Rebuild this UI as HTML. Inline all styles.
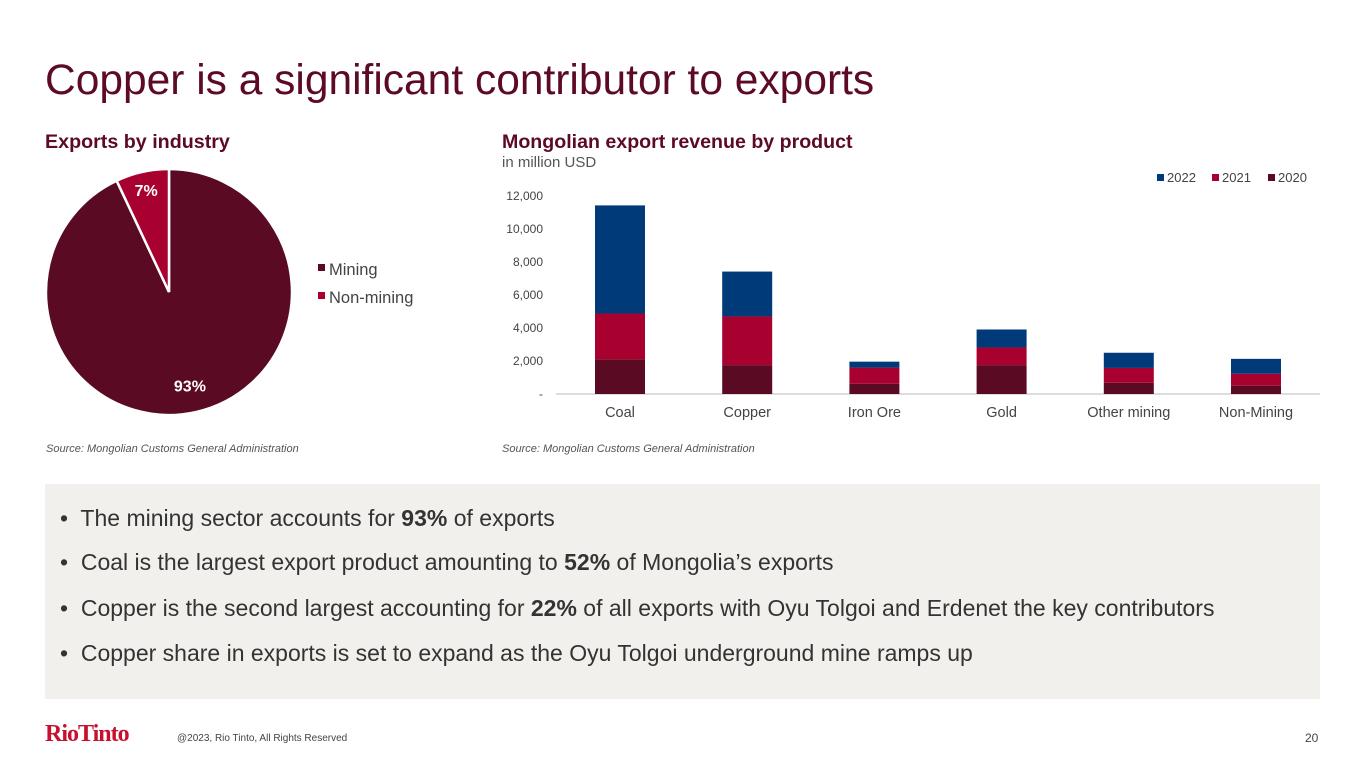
<!DOCTYPE html>
<html><head><meta charset="utf-8"><style>
body{margin:0;width:1365px;height:768px;background:#fff;font-family:"Liberation Sans",Arial,sans-serif;position:relative;overflow:hidden}
.a{position:absolute;white-space:nowrap}
.b{position:absolute;white-space:nowrap;left:60px;font-size:23px;color:#333}
</style></head><body>
<div class="a" style="left:45px;top:57px;font-size:42.5px;color:#5c0a25">Copper is a significant contributor to exports</div>
<div class="a" style="left:45px;top:131px;font-size:19.7px;font-weight:bold;color:#5c0a25">Exports by industry</div>
<div class="a" style="left:502px;top:131px;font-size:19.6px;font-weight:bold;color:#5c0a25">Mongolian export revenue by product</div>
<div class="a" style="left:502px;top:154px;font-size:15px;color:#555">in million USD</div>
<div class="a" style="left:46px;top:443px;font-size:11px;font-style:italic;color:#555">Source: Mongolian Customs General Administration</div>
<div class="a" style="left:502px;top:443px;font-size:11px;font-style:italic;color:#555">Source: Mongolian Customs General Administration</div>
<svg id="pie" class="a" style="left:0;top:0" width="460" height="440"></svg>
<svg id="bar" class="a" style="left:0;top:0" width="1365" height="440"></svg>
<div class="a" style="left:45px;top:484px;width:1275px;height:215px;background:#f1f0ed"></div>
<div class="b" style="top:505px">•&nbsp; The mining sector accounts for <b>93%</b> of exports</div>
<div class="b" style="top:549px">•&nbsp; Coal is the largest export product amounting to <b>52%</b> of Mongolia’s exports</div>
<div class="b" style="top:595px">•&nbsp; Copper is the second largest accounting for <b>22%</b> of all exports with Oyu Tolgoi and Erdenet the key contributors</div>
<div class="b" style="top:640px">•&nbsp; Copper share in exports is set to expand as the Oyu Tolgoi underground mine ramps up</div>
<div class="a" style="left:45px;top:721px;font-size:24px;font-weight:bold;font-family:'Liberation Serif',serif;color:#c8102e;letter-spacing:-1px">RioTinto</div>
<div class="a" style="left:177px;top:733px;font-size:10px;color:#444">@2023, Rio Tinto, All Rights Reserved</div>
<div class="a" style="left:1305px;top:731px;font-size:12px;color:#444">20</div>
<script>
const pieLabels=["Mining","Non-mining"];
const pieValues=[93,7];
const categories=["Coal","Copper","Iron Ore","Gold","Other mining","Non-Mining"];
const v2020=[2100,1750,620,1750,680,500];
const v2021=[2780,2950,980,1070,900,730];
const v2022=[6550,2720,360,1090,920,900];
const yTicks=[0,2000,4000,6000,8000,10000,12000];
const yTickLabels=["-","2,000","4,000","6,000","8,000","10,000","12,000"];
const NS="http://www.w3.org/2000/svg";
function mk(p,t,at){const e=document.createElementNS(NS,t);for(const k in at)e.setAttribute(k,at[k]);p.appendChild(e);return e;}
const pie=document.getElementById('pie');
const cx=169,cy=292,r=123,pcol=["#5a0a22","#a8002f"];
const tot=pieValues.reduce((a,b)=>a+b,0);
let ang=0;
pieValues.forEach((v,i)=>{
 const a0=ang,a1=ang+v/tot*2*Math.PI;ang=a1;
 const p=(a)=>[cx+r*Math.sin(a),cy-r*Math.cos(a)];
 const [x0,y0]=p(a0),[x1,y1]=p(a1);
 const s=mk(pie,'path',{d:`M${cx},${cy}L${x0},${y0}A${r},${r} 0 ${a1-a0>Math.PI?1:0} 1 ${x1},${y1}Z`,fill:pcol[i],stroke:'#fff','stroke-width':2.5});
 
 
 const m=(a0+a1)/2,lr=i==0?r*0.78:r*0.85;
 const t=mk(pie,'text',{x:cx+lr*Math.sin(m),y:cy-lr*Math.cos(m)+6,'text-anchor':'middle','font-size':16,'font-weight':'bold',fill:'#fff'});
 t.textContent=v+'%';
 
 
 const lg=mk(pie,'rect',{x:318,y:264+i*28,width:7,height:7,fill:pcol[i]});
 
 
 const lt=mk(pie,'text',{x:329,y:275+i*28,'font-size':16.5,fill:'#444'});
 lt.textContent=pieLabels[i];
 
 
});
const bar=document.getElementById('bar');
const y0=394,yTop=196,yMax=12000;
const Y=v=>y0-(v/yMax)*(y0-yTop);
const X=i=>620+i*127.2;
const bw=50;
yTicks.forEach((t,i)=>{
 const e=mk(bar,'text',{x:543,y:Y(t)+4,'text-anchor':'end','font-size':12,fill:'#444'});
 e.textContent=yTickLabels[i];
 
 
});
const ax=mk(bar,'line',{x1:556,x2:1320,y1:y0,y2:y0,stroke:'#bbb','stroke-width':1});


const series=[[v2020,"#5a0a22","2020"],[v2021,"#a8002f","2021"],[v2022,"#003a78","2022"]];
categories.forEach((c,i)=>{
 let base=0;
 series.forEach(([vals,col,yr])=>{
  const b=mk(bar,'rect',{x:X(i)-bw/2,y:Y(base+vals[i]),width:bw,height:Y(base)-Y(base+vals[i]),fill:col});
  
  
  base+=vals[i];
 });
 const t=mk(bar,'text',{x:X(i),y:417,'text-anchor':'middle','font-size':14.5,fill:'#444'});
 t.textContent=c;
 
 
});
[["2022","#003a78",1157],["2021","#a8002f",1212],["2020","#5a0a22",1268]].forEach(([n,col,x])=>{
 const s=mk(bar,'rect',{x:x,y:174,width:7,height:7,fill:col});
 
 
 const t=mk(bar,'text',{x:x+10,y:182,'font-size':13,fill:'#444'});
 t.textContent=n;
 
 
});
</script>
</body></html>
